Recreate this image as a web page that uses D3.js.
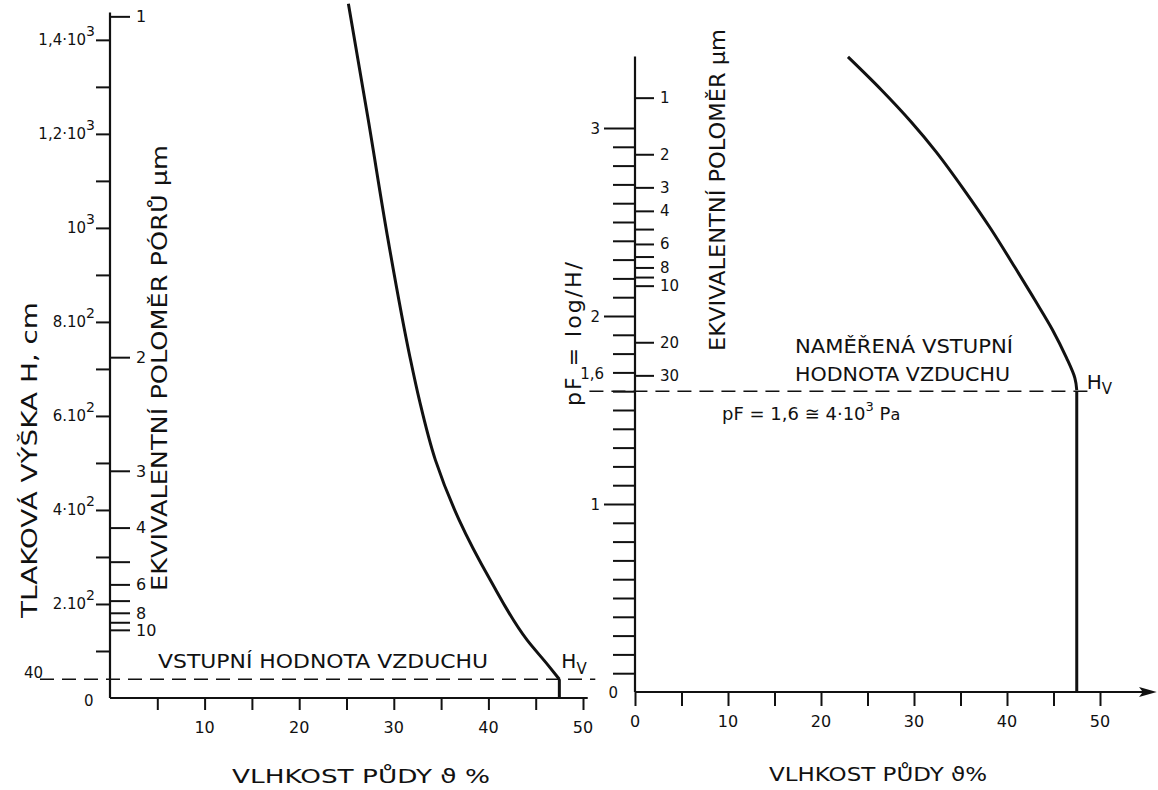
<!DOCTYPE html>
<html>
<head>
<meta charset="utf-8">
<script src="https://cdn.jsdelivr.net/npm/d3@7"></script>
<style>
body { margin: 0; background: #fff; }
svg { display: block; }
text { font-family: "DejaVu Sans", sans-serif; fill: #111; }
</style>
</head>
<body>
<svg id="chart" width="1158" height="790"></svg>
<script>
// left panel - pressure head H (cm) against soil moisture (%)
const leftTheta = [25.2, 27.3, 29.4, 31.7, 32.7, 34.4, 36.9, 40.2, 44.1, 46.3, 47.5];
const leftH     = [1477, 1230, 974, 726, 634, 506, 379, 251, 123, 70, 40];

// right panel - pF against soil moisture (%)
const rightTheta = [22.9, 26.5, 29.7, 32.4, 35.4, 38.2, 40.9, 43.0, 44.9, 46.4, 47.3, 47.5];
const rightPF    = [3.378, 3.202, 3.032, 2.872, 2.670, 2.468, 2.255, 2.085, 1.926, 1.777, 1.670, 1.606];

// air entry value
const airTheta = 47.5;
const airH = 40;
const airPF = 1.6;

// ticks
const thetaTicks = [5, 10, 15, 20, 25, 30, 35, 40, 45, 50];
const leftThetaLabels = [10, 20, 30, 40, 50];
const rightThetaTicks = [0, 5, 10, 15, 20, 25, 30, 35, 40, 45, 50];
const rightThetaLabels = [0, 10, 20, 30, 40, 50];

const hTicks = [100, 200, 300, 400, 500, 600, 700, 800, 900, 1000, 1100, 1200, 1300, 1400];
const hLabelValues = [200, 400, 600, 800, 1000, 1200, 1400];
const hLabelBase = ["2.10", "4·10", "6.10", "8.10", "10", "1,2·10", "1,4·10"];
const hLabelExp = ["2", "2", "2", "2", "3", "3", "3"];

const poreConst = 1450; // r (µm) * H (cm)
const radiusLeftTicks = [1, 2, 3, 4, 5, 6, 7, 8, 9, 10];
const radiusLeftLabels = [1, 2, 3, 4, 6, 8, 10];
const radiusRightTicks = [1, 2, 3, 4, 5, 6, 7, 8, 9, 10, 20, 30];
const radiusRightLabels = [1, 2, 3, 4, 6, 8, 10, 20, 30];

const pfTicks = d3.range(1, 31).map(i => i / 10);
const pfMajor = [1, 2, 3];
const pfLabels = [0, 1, 1.6, 2, 3];
const pfLabelText = ["0", "1", "1,6", "2", "3"];

const svg = d3.select("#chart");

// scales
const xL = d3.scaleLinear().domain([0, 50]).range([110, 583]);
const yL = d3.scaleLinear().domain([0, 1455]).range([698, 14]);
const xR = d3.scaleLinear().domain([0, 50]).range([635, 1100]);
const yR = d3.scaleLinear().domain([0, 3]).range([692, 128]);

const ink = "#111";

// ---------- LEFT PANEL ----------
const gl = svg.append("g");

// y axis, H ticks on the left
gl.append("g")
    .attr("transform", `translate(${xL(0)},0)`)
    .call(d3.axisLeft(yL).tickValues(hTicks).tickSize(14).tickSizeOuter(0).tickFormat(""))
    .call(g => g.select(".domain").remove())
    .selectAll("line").attr("stroke", ink).attr("stroke-width", 2);

gl.append("line")
    .attr("x1", xL(0)).attr("x2", xL(0))
    .attr("y1", yL(0)).attr("y2", yL(1458))
    .attr("stroke", ink).attr("stroke-width", 2.2);

// pore radius ticks on the right side
gl.append("g")
    .attr("transform", `translate(${xL(0)},0)`)
    .call(d3.axisRight(yL).tickValues(radiusLeftTicks.map(r => poreConst / r)).tickSize(20).tickFormat(""))
    .call(g => g.select(".domain").remove())
    .selectAll("line").attr("stroke", ink).attr("stroke-width", 2);

gl.selectAll(".rlab")
    .data(radiusLeftLabels)
    .join("text")
    .attr("x", xL(0) + 26)
    .attr("y", d => yL(poreConst / d))
    .attr("dy", "0.36em")
    .attr("font-size", 16)
    .text(d => d);

// H tick labels with exponents
const hl = gl.selectAll(".hlab")
    .data(hLabelValues)
    .join("text")
    .attr("text-anchor", "end")
    .attr("x", xL(0) - 15)
    .attr("y", d => yL(d) + 5)
    .attr("font-size", 15);
hl.append("tspan").text((d, i) => hLabelBase[i]);
hl.append("tspan").attr("dy", -9).attr("font-size", 14).text((d, i) => hLabelExp[i]);

gl.append("text").attr("x", 24).attr("y", yL(airH) - 1).attr("font-size", 15).text("40");
gl.append("text").attr("x", 84).attr("y", yL(0) + 8).attr("font-size", 15).text("0");

// x axis
gl.append("line")
    .attr("x1", xL(0)).attr("x2", xL(50.5))
    .attr("y1", yL(0)).attr("y2", yL(0))
    .attr("stroke", ink).attr("stroke-width", 2.2);

gl.append("g")
    .attr("transform", `translate(0,${yL(0)})`)
    .call(d3.axisBottom(xL).tickValues(thetaTicks).tickSize(12).tickFormat(""))
    .call(g => g.select(".domain").remove())
    .selectAll("line").attr("stroke", ink).attr("stroke-width", 2);

gl.selectAll(".xlab")
    .data(leftThetaLabels)
    .join("text")
    .attr("x", d => xL(d))
    .attr("y", yL(0) + 35)
    .attr("text-anchor", "middle")
    .attr("font-size", 16)
    .text(d => d);

// dashed air-entry line
gl.append("line")
    .attr("x1", xL(-7.4)).attr("x2", xL(51.3))
    .attr("y1", yL(airH)).attr("y2", yL(airH))
    .attr("stroke", ink).attr("stroke-width", 1.6)
    .attr("stroke-dasharray", "14,8");

// curve
const lineL = d3.line().x(d => xL(d[0])).y(d => yL(d[1])).curve(d3.curveMonotoneY);
gl.append("path")
    .datum(leftTheta.map((t, i) => [t, leftH[i]]))
    .attr("d", lineL)
    .attr("fill", "none").attr("stroke", ink).attr("stroke-width", 3);
gl.append("line")
    .attr("x1", xL(airTheta)).attr("x2", xL(airTheta))
    .attr("y1", yL(airH)).attr("y2", yL(0))
    .attr("stroke", ink).attr("stroke-width", 3);

// annotations
gl.append("text")
    .attr("x", 158).attr("y", yL(airH) - 11)
    .attr("font-size", 19)
    .attr("textLength", 330).attr("lengthAdjust", "spacingAndGlyphs")
    .text("VSTUPNÍ HODNOTA VZDUCHU");

const hvL = gl.append("text").attr("x", xL(airTheta) + 2).attr("y", yL(airH) - 11).attr("font-size", 20);
hvL.append("tspan").text("H");
hvL.append("tspan").attr("dy", 6).attr("font-size", 15).text("V");

gl.append("text")
    .attr("transform", `translate(37,460) rotate(-90)`)
    .attr("text-anchor", "middle")
    .attr("font-size", 21)
    .attr("textLength", 316).attr("lengthAdjust", "spacingAndGlyphs")
    .text("TLAKOVÁ VÝŠKA H, cm");

gl.append("text")
    .attr("transform", `translate(167,368) rotate(-90)`)
    .attr("text-anchor", "middle")
    .attr("font-size", 21)
    .attr("textLength", 446).attr("lengthAdjust", "spacingAndGlyphs")
    .text("EKVIVALENTNÍ POLOMĚR PÓRŮ µm");

gl.append("text")
    .attr("x", 361).attr("y", 783)
    .attr("text-anchor", "middle")
    .attr("font-size", 20)
    .attr("textLength", 258).attr("lengthAdjust", "spacingAndGlyphs")
    .text("VLHKOST PŮDY  ϑ %");

// ---------- RIGHT PANEL ----------
const gr = svg.append("g");

gr.append("line")
    .attr("x1", xR(0)).attr("x2", xR(0))
    .attr("y1", yR(0)).attr("y2", yR(3.38))
    .attr("stroke", ink).attr("stroke-width", 2.2);

gr.append("g")
    .attr("transform", `translate(${xR(0)},0)`)
    .call(d3.axisLeft(yR).tickValues(pfTicks.filter(v => !pfMajor.includes(v))).tickSize(22).tickFormat(""))
    .call(g => g.select(".domain").remove())
    .selectAll("line").attr("stroke", ink).attr("stroke-width", 2);

gr.append("g")
    .attr("transform", `translate(${xR(0)},0)`)
    .call(d3.axisLeft(yR).tickValues(pfMajor).tickSize(31).tickFormat(""))
    .call(g => g.select(".domain").remove())
    .selectAll("line").attr("stroke", ink).attr("stroke-width", 2);

gr.selectAll(".pflab")
    .data(pfLabels)
    .join("text")
    .attr("text-anchor", "end")
    .attr("x", d => d === 0 ? xR(0) - 17 : d === 1.6 ? xR(0) - 31 : xR(0) - 35)
    .attr("y", d => d === 1.6 ? yR(d) - 12 : yR(d) + 6)
    .attr("font-size", 15)
    .text((d, i) => pfLabelText[i]);

// pore radius ticks, right side
gr.append("g")
    .attr("transform", `translate(${xR(0)},0)`)
    .call(d3.axisRight(yR).tickValues(radiusRightTicks.map(r => Math.log10(poreConst / r))).tickSize(19).tickFormat(""))
    .call(g => g.select(".domain").remove())
    .selectAll("line").attr("stroke", ink).attr("stroke-width", 2);

gr.selectAll(".rrlab")
    .data(radiusRightLabels)
    .join("text")
    .attr("x", xR(0) + 25)
    .attr("y", d => yR(Math.log10(poreConst / d)))
    .attr("dy", "0.36em")
    .attr("font-size", 15)
    .text(d => d);

// x axis with arrow
gr.append("line")
    .attr("x1", xR(0)).attr("x2", xR(55.5))
    .attr("y1", yR(0)).attr("y2", yR(0))
    .attr("stroke", ink).attr("stroke-width", 2.2);
gr.append("path")
    .attr("d", `M${xR(56.1)},${yR(0)} L${xR(54.2)},${yR(0) - 5} L${xR(54.6)},${yR(0)} L${xR(54.2)},${yR(0) + 5} Z`)
    .attr("fill", ink);

gr.append("g")
    .attr("transform", `translate(0,${yR(0)})`)
    .call(d3.axisBottom(xR).tickValues(rightThetaTicks).tickSize(14).tickFormat(""))
    .call(g => g.select(".domain").remove())
    .selectAll("line").attr("stroke", ink).attr("stroke-width", 2);

gr.selectAll(".xrlab")
    .data(rightThetaLabels)
    .join("text")
    .attr("x", d => xR(d))
    .attr("y", yR(0) + 35)
    .attr("text-anchor", "middle")
    .attr("font-size", 16)
    .text(d => d);

// dashed line
gr.append("line")
    .attr("x1", xR(-4.9)).attr("x2", xR(49.4))
    .attr("y1", yR(airPF)).attr("y2", yR(airPF))
    .attr("stroke", ink).attr("stroke-width", 1.6)
    .attr("stroke-dasharray", "14,8");

// curve
const lineR = d3.line().x(d => xR(d[0])).y(d => yR(d[1])).curve(d3.curveCatmullRom.alpha(0.5));
gr.append("path")
    .datum(rightTheta.map((t, i) => [t, rightPF[i]]))
    .attr("d", lineR)
    .attr("fill", "none").attr("stroke", ink).attr("stroke-width", 3);
gr.append("line")
    .attr("x1", xR(airTheta)).attr("x2", xR(airTheta))
    .attr("y1", yR(airPF)).attr("y2", yR(0))
    .attr("stroke", ink).attr("stroke-width", 3);

// annotations
gr.append("text").attr("x", 795).attr("y", 353).attr("font-size", 19)
    .attr("textLength", 218).attr("lengthAdjust", "spacingAndGlyphs")
    .text("NAMĚŘENÁ VSTUPNÍ");
gr.append("text").attr("x", 795).attr("y", 381).attr("font-size", 19)
    .attr("textLength", 215).attr("lengthAdjust", "spacingAndGlyphs")
    .text("HODNOTA VZDUCHU");

const hvR = gr.append("text").attr("x", xR(airTheta) + 10).attr("y", yR(airPF) - 2).attr("font-size", 20);
hvR.append("tspan").text("H");
hvR.append("tspan").attr("dy", 5).attr("font-size", 15).text("V");

const pfNote = gr.append("text").attr("x", 722).attr("y", 420).attr("font-size", 18);
pfNote.append("tspan").text("pF = 1,6 ≅ 4·10");
pfNote.append("tspan").attr("dy", -9).attr("font-size", 13).text("3");
pfNote.append("tspan").attr("dy", 9).text(" P");
pfNote.append("tspan").attr("font-size", 16).text("a");

gr.append("text")
    .attr("transform", `translate(581,333) rotate(-90)`)
    .attr("text-anchor", "middle")
    .attr("font-size", 22)
    .attr("letter-spacing", 2)
    .text("pF = log/H/");

gr.append("text")
    .attr("transform", `translate(725,190) rotate(-90)`)
    .attr("text-anchor", "middle")
    .attr("font-size", 21)
    .attr("textLength", 322).attr("lengthAdjust", "spacingAndGlyphs")
    .text("EKVIVALENTNÍ POLOMĚR µm");

gr.append("text")
    .attr("x", 878).attr("y", 781)
    .attr("text-anchor", "middle")
    .attr("font-size", 20)
    .attr("textLength", 218).attr("lengthAdjust", "spacingAndGlyphs")
    .text("VLHKOST PŮDY ϑ%");
</script>
</body>
</html>
